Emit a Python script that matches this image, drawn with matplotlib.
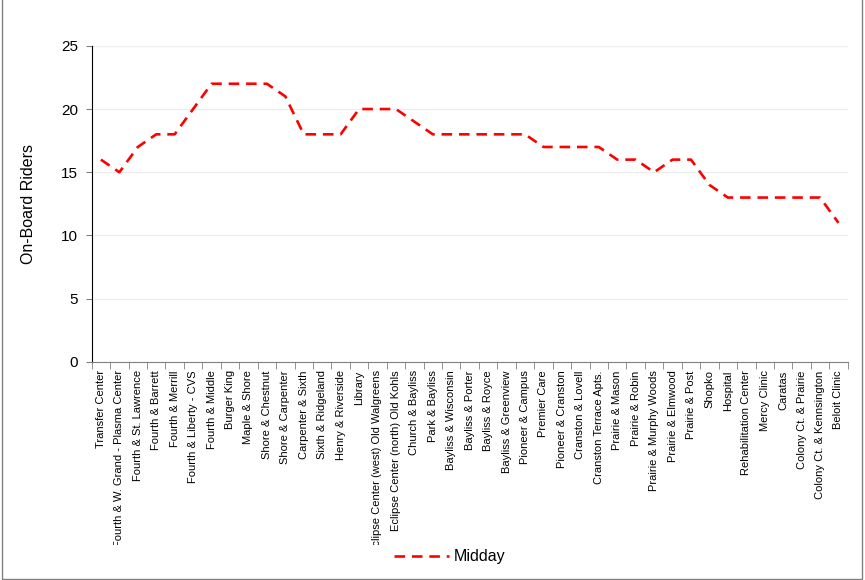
import matplotlib.pyplot as plt
from matplotlib.patches import Rectangle
from matplotlib.transforms import Bbox, TransformedBbox

# stop names and riders on board (midday)
stops = [
    'Transfer Center', 'Fourth & W. Grand - Plasma Center', 'Fourth & St. Lawrence',
    'Fourth & Barrett', 'Fourth & Merrill', 'Fourth & Liberty - CVS', 'Fourth & Middle',
    'Burger King', 'Maple & Shore', 'Shore & Chestnut', 'Shore & Carpenter',
    'Carpenter & Sixth', 'Sixth & Ridgeland', 'Henry & Riverside', 'Library',
    'Eclipse Center (west) Old Walgreens', 'Eclipse Center (north) Old Kohls',
    'Church & Bayliss', 'Park & Bayliss', 'Bayliss & Wisconsin', 'Bayliss & Porter',
    'Bayliss & Royce', 'Bayliss & Greenview', 'Pioneer & Campus', 'Premier Care',
    'Pioneer & Cranston', 'Cranston & Lovell', 'Cranston Terrace Apts.', 'Prairie & Mason',
    'Prairie & Robin', 'Prairie & Murphy Woods', 'Prairie & Elmwood', 'Prairie & Post',
    'Shopko', 'Hospital', 'Rehabilitation Center', 'Mercy Clinic', 'Caratas',
    'Colony Ct. & Prairie', 'Colony Ct. & Kennsington', 'Beloit Clinic',
]
midday = [16, 15, 17, 18, 18, 20, 22, 22, 22, 22, 21, 18, 18, 18, 20, 20, 20, 19, 18, 18,
          18, 18, 18, 18, 17, 17, 17, 17, 16, 16, 15, 16, 16, 14, 13, 13, 13, 13, 13, 13, 11]
y_ticks = [0, 5, 10, 15, 20, 25]

plt.rcParams['font.family'] = ['Liberation Sans', 'DejaVu Sans']

fig = plt.figure(figsize=(8.65, 5.8), dpi=100)
ax = fig.add_axes([0.106, 0.376, 0.874, 0.545])

x = list(range(len(stops)))
line, = ax.plot(x, midday, color='#ff0000', lw=1.9, ls='--', label='Midday')
line.set_dashes((4, 2.6))

ax.set_xlim(-0.5, len(stops) - 0.5)
ax.set_ylim(0, 25)
ax.set_yticks(y_ticks)
ax.tick_params(axis='y', labelsize=11, length=4, color='#808080', direction='out', pad=6)
ax.set_ylabel('On-Board Riders', fontsize=11.5, labelpad=18)
ax.grid(axis='y', color='#ececec', lw=0.8)
ax.set_axisbelow(True)

ax.set_xticks(x)
ax.set_xticklabels(stops, rotation=90, fontsize=8)
ax.tick_params(axis='x', length=0, pad=6)
ax.set_xticks([i - 0.5 for i in range(len(stops) + 1)], minor=True)
ax.tick_params(axis='x', which='minor', length=5, color='#808080', direction='out')

for side in ['top', 'right']:
    ax.spines[side].set_visible(False)
ax.spines['left'].set_color('black')
ax.spines['bottom'].set_color('#808080')

# long labels are cut off near the bottom like in the original
clip = TransformedBbox(Bbox([[0, 0.06], [1, 0.4]]), fig.transFigure)
for lbl in ax.get_xticklabels():
    lbl.set_clip_box(clip)
    lbl.set_clip_on(True)

fig.legend(handles=[line], loc='center', bbox_to_anchor=(0.52, 0.04), frameon=False,
           fontsize=11.5, handlelength=3.4, handletextpad=0.3)

fig.patches.append(Rectangle((0.002, 0.002), 0.994, 1.2, transform=fig.transFigure,
                             fill=False, edgecolor='#808080', lw=1))

fig.savefig('out.png', dpi=100)
